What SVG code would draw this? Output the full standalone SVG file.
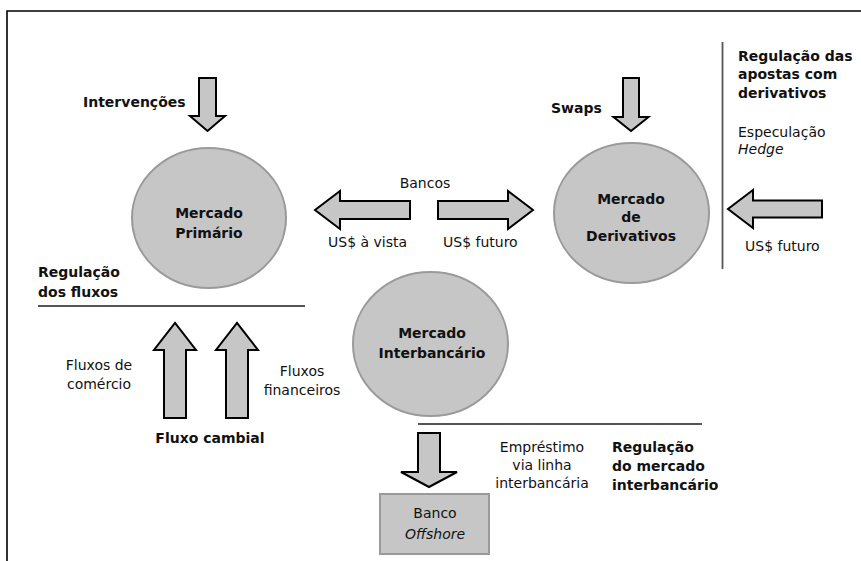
<svg xmlns="http://www.w3.org/2000/svg" width="861" height="561" viewBox="0 0 861 561">
<style>
text{font-family:"DejaVu Sans","Liberation Sans",sans-serif;font-size:14px;fill:#111}
.b{font-weight:bold}
.i{font-style:italic}
.m{text-anchor:middle}
.node{fill:#c6c6c6;stroke:#9a9a9a;stroke-width:2}
.arr{fill:#c6c6c6;stroke:#000;stroke-width:2;stroke-linejoin:miter}
.rule{stroke:#555;stroke-width:1.8;fill:none}
</style>
<rect width="861" height="561" fill="#fff"/>
<path d="M7,561 V11 H861" fill="none" stroke="#000" stroke-width="1.6"/>

<g id="mercado-primario">
<ellipse class="node" cx="209" cy="218" rx="77" ry="70"/>
<text class="b m" x="209" y="218">Mercado</text>
<text class="b m" x="209" y="238">Primário</text>
</g>

<g id="mercado-derivativos">
<ellipse class="node" cx="631.5" cy="213" rx="77.5" ry="70"/>
<text class="b m" x="631" y="203.5">Mercado</text>
<text class="b m" x="631" y="222">de</text>
<text class="b m" x="631" y="240.5">Derivativos</text>
</g>

<g id="mercado-interbancario">
<ellipse class="node" cx="430.5" cy="344" rx="77.5" ry="72"/>
<text class="b m" x="432" y="338">Mercado</text>
<text class="b m" x="432" y="358">Interbancário</text>
</g>

<g id="banco-offshore">
<rect class="node" x="380" y="494" width="109" height="60"/>
<text class="m" x="435" y="518">Banco</text>
<text class="i m" x="435" y="539">Offshore</text>
</g>

<g id="labels">
<text class="b" x="83" y="107">Intervenções</text>
<text class="b" x="551" y="113">Swaps</text>
<text class="m" x="425" y="188">Bancos</text>
<text x="328" y="247">US$ à vista</text>
<text x="443" y="247">US$ futuro</text>
<text x="745" y="251">US$ futuro</text>
<text class="b" x="738" y="60.5">Regulação das</text>
<text class="b" x="738" y="79">apostas com</text>
<text class="b" x="738" y="97.5">derivativos</text>
<text x="738" y="137">Especulação</text>
<text class="i" x="738" y="154">Hedge</text>
<text class="b" x="38" y="277">Regulação</text>
<text class="b" x="38" y="297">dos fluxos</text>
<text class="m" x="99" y="370">Fluxos de</text>
<text class="m" x="99" y="389">comércio</text>
<text class="m" x="302" y="376">Fluxos</text>
<text class="m" x="302" y="395">financeiros</text>
<text class="b m" x="210" y="443">Fluxo cambial</text>
<text class="m" x="542" y="452">Empréstimo</text>
<text class="m" x="542" y="470">via linha</text>
<text class="m" x="542" y="488">interbancária</text>
<text class="b" x="612" y="452">Regulação</text>
<text class="b" x="612" y="471">do mercado</text>
<text class="b" x="612" y="490">interbancário</text>
</g>

<g id="rules">
<line class="rule" x1="722.5" y1="42" x2="722.5" y2="269"/>
<line class="rule" x1="38" y1="306" x2="305" y2="306"/>
<line class="rule" x1="418" y1="424" x2="702" y2="424"/>
</g>

<g id="connectors">
<polygon class="arr" points="199,78 216,78 216,116 225,116 207.5,131 190,116 199,116"/>
<polygon class="arr" points="623,78 639,78 639,117 648.5,117 631,131 613.5,117 623,117"/>
<polygon class="arr" points="410,201 340,201 340,191 315,210 340,229 340,219 410,219"/>
<polygon class="arr" points="438,201 508,201 508,191 533,210 508,229 508,219 438,219"/>
<polygon class="arr" points="822,200.5 753,200.5 753,190 728,209 753,228 753,217.5 822,217.5"/>
<polygon class="arr" points="164,418 164,350 154,350 175,323 196,350 186,350 186,418"/>
<polygon class="arr" points="226,418 226,350 216,350 237,323 258,350 248,350 248,418"/>
<polygon class="arr" points="418,433 440,433 440,472 457,472 429,487 401,472 418,472"/>
</g>
</svg>
